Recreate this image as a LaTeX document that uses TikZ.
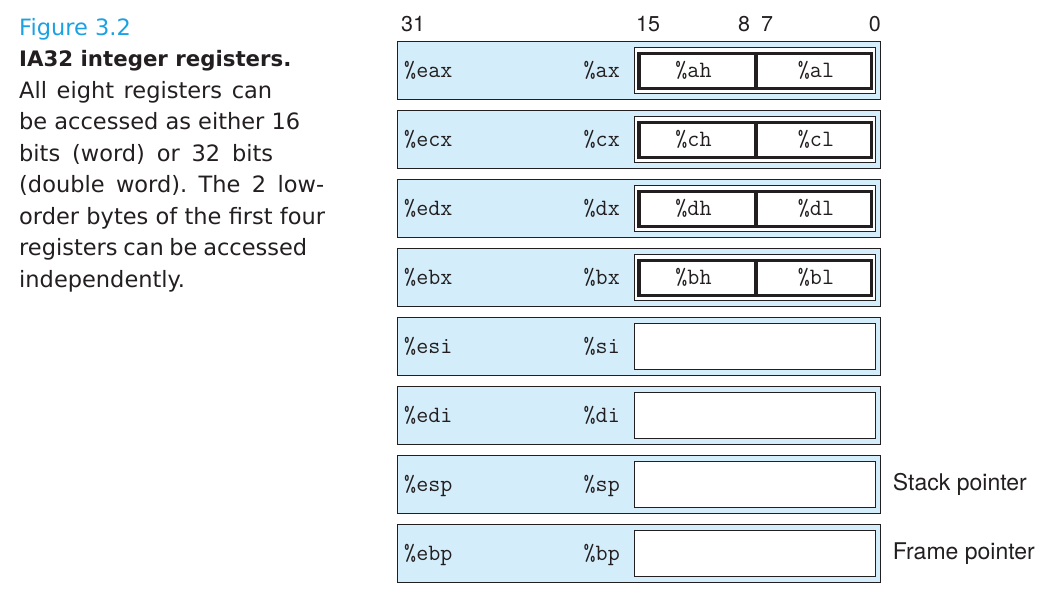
\documentclass[tikz,border=0pt]{standalone}
\usepackage{fontspec}
\setmainfont{DejaVu Sans}
\newfontfamily\numfont{TeX Gyre Heros}
\setmonofont{Latin Modern Mono}
\definecolor{figcyan}{RGB}{27,161,226}
\definecolor{regblue}{RGB}{212,237,250}
\definecolor{inkblack}{RGB}{35,31,32}
\frenchspacing
\begin{document}
\begin{tikzpicture}[x=1pt,y=-1pt,
  regbox/.style={draw=inkblack, line width=1.3pt, fill=regblue, anchor=north west,
    minimum width=483pt, minimum height=57.5pt, inner sep=0pt},
  lowbox/.style={draw=inkblack, line width=1pt, fill=white, anchor=north west,
    minimum width=241pt, minimum height=46.5pt, inner sep=0pt},
  bytebox/.style={draw=inkblack, line width=3.5pt, anchor=north west,
    minimum height=35pt, inner sep=0pt},
  rname/.style={font=\fontsize{23.4}{28}\selectfont\ttfamily, text=inkblack, inner sep=0pt},
  num/.style={font=\fontsize{21.5}{24}\selectfont\numfont, text=inkblack, inner sep=0pt, anchor=base west},
  side/.style={font=\fontsize{23}{27}\selectfont\numfont, text=inkblack, inner sep=0pt, anchor=base west},
  capline/.style={font=\fontsize{22.5}{28}\selectfont, text=inkblack, inner sep=0pt, anchor=base west},
]
\useasboundingbox (0,0) rectangle (1049,592);

% caption
\node[capline, text=figcyan] (fig) at (19,35) {Figure 3.2};
\node[capline, font=\fontsize{21.3}{28}\selectfont\bfseries] (title) at (19,66.5) {IA32 integer registers.};
\node[capline] (c1) at (19,98) {\makebox[253pt][s]{All eight registers can}};
\node[capline] (c2) at (19,129.5) {\makebox[281pt][s]{be accessed as either 16}};
\node[capline] (c3) at (19,161) {\makebox[254pt][s]{bits (word) or 32 bits}};
\node[capline] (c4) at (19,192.5) {\makebox[305pt][s]{(double word). The 2 low-}};
\node[capline] (c5) at (19,224) {\makebox[306pt][s]{order bytes of the first four}};
\node[capline] (c6) at (19,255.5) {\makebox[288pt][s]{registers can be accessed}};
\node[capline] (c7) at (19,287) {independently.};

% bit numbers
\node[num] (b31) at (401,31.7) {31};
\node[num] (b15) at (636,31.7) {15};
\node[num] (b8) at (738,31.7) {8};
\node[num] (b7) at (761,31.7) {7};
\node[num, anchor=base east] (b0) at (881,31.7) {0};

% registers
\foreach \i/\e/\w in {0/eax/ax,1/ecx/cx,2/edx/dx,3/ebx/bx,4/esi/si,5/edi/di,6/esp/sp,7/ebp/bp}{
  \pgfmathsetmacro{\t}{41+69*\i}
  \node[regbox] (r\i) at (397,\t) {};
  \node[lowbox] (w\i) at (633.5,\t+5.5) {};
  \node[rname, anchor=base west] (e\i) at (404,\t+36.5) {\%\e};
  \node[rname, anchor=base east] (x\i) at (620,\t+36.5) {\%\w};
}
\foreach \i/\h/\l in {0/ah/al,1/ch/cl,2/dh/dl,3/bh/bl}{
  \pgfmathsetmacro{\t}{41+69*\i}
  \node[bytebox, minimum width=117pt] (hb\i) at (637.3,\t+10.7) {};
  \node[bytebox, minimum width=115.2pt] (lb\i) at (754.3,\t+10.7) {};
  \node[rname, anchor=base] (h\i) at (693.5,\t+36.5) {\%\h};
  \node[rname, anchor=base] (l\i) at (816,\t+36.5) {\%\l};
}

\node[side] (sp) at (892.7,490) {Stack pointer};
\node[side] (fp) at (892.7,559.5) {Frame pointer};
\end{tikzpicture}
\end{document}
